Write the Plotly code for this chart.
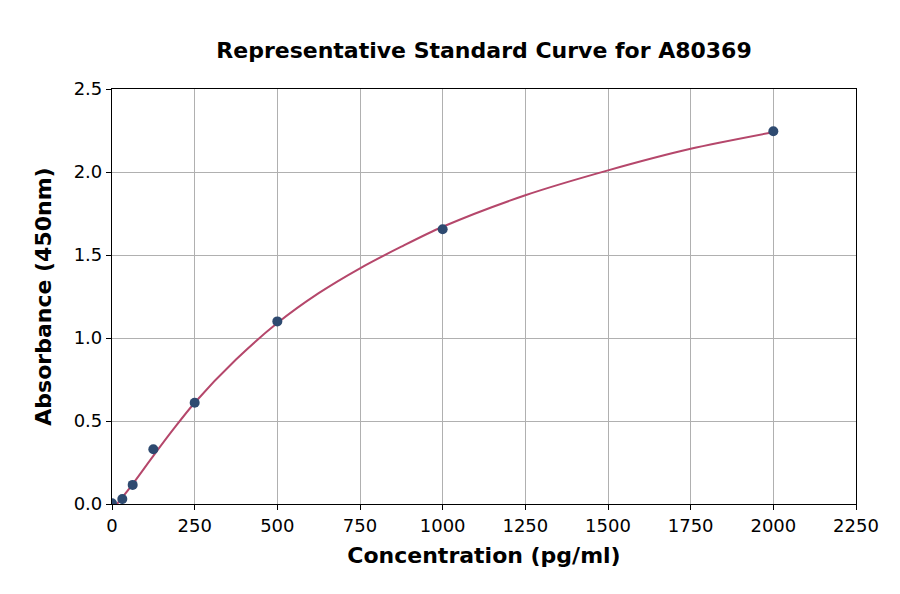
import plotly.graph_objects as go

# standard points
conc = [0, 31.25, 62.5, 125, 250, 500, 1000, 2000]
absorbance = [0.005, 0.03, 0.115, 0.33, 0.61, 1.10, 1.655, 2.245]

# fitted curve
fit_x = [15, 31.25, 62.5, 125, 187.5, 250, 375, 500, 625, 750, 875, 1000,
         1250, 1500, 1750, 2000]
fit_y = [0.0, 0.04, 0.12, 0.29, 0.455, 0.61, 0.87, 1.09, 1.27, 1.42, 1.55, 1.67,
         1.86, 2.01, 2.14, 2.24]

x_ticks = [0, 250, 500, 750, 1000, 1250, 1500, 1750, 2000, 2250]
y_ticks = [0.0, 0.5, 1.0, 1.5, 2.0, 2.5]

fig = go.Figure()
fig.add_trace(go.Scatter(x=fit_x, y=fit_y, mode='lines',
                         line=dict(color='#b5476b', width=2, shape='spline', smoothing=0.8),
                         showlegend=False))
fig.add_trace(go.Scatter(x=conc, y=absorbance, mode='markers',
                         marker=dict(color='#2e4a70', size=10),
                         showlegend=False))

axis_common = dict(showline=True, linecolor='black', linewidth=1.2, mirror=True,
                   showgrid=True, gridcolor='#b0b0b0', gridwidth=1,
                   ticks='outside', ticklen=5, tickcolor='black',
                   zeroline=False, tickfont=dict(size=18, color='black'))

fig.update_layout(
    width=900, height=594,
    plot_bgcolor='white', paper_bgcolor='white',
    font=dict(family='DejaVu Sans', color='black'),
    margin=dict(l=104, r=52, t=81, b=98),
    title=dict(text='<b>Representative Standard Curve for A80369</b>',
               xref='paper', x=0.5, xanchor='center', y=0.929, yanchor='middle',
               font=dict(size=22)),
    xaxis=dict(range=[0, 2250], tickvals=x_ticks,
               title=dict(text='<b>Concentration (pg/ml)</b>', font=dict(size=22), standoff=12),
               **axis_common),
    yaxis=dict(range=[0, 2.5], tickvals=y_ticks, tickformat='.1f',
               title=dict(text='<b>Absorbance (450nm)</b>', font=dict(size=22), standoff=15),
               **axis_common),
)

fig.write_html("out.html")
